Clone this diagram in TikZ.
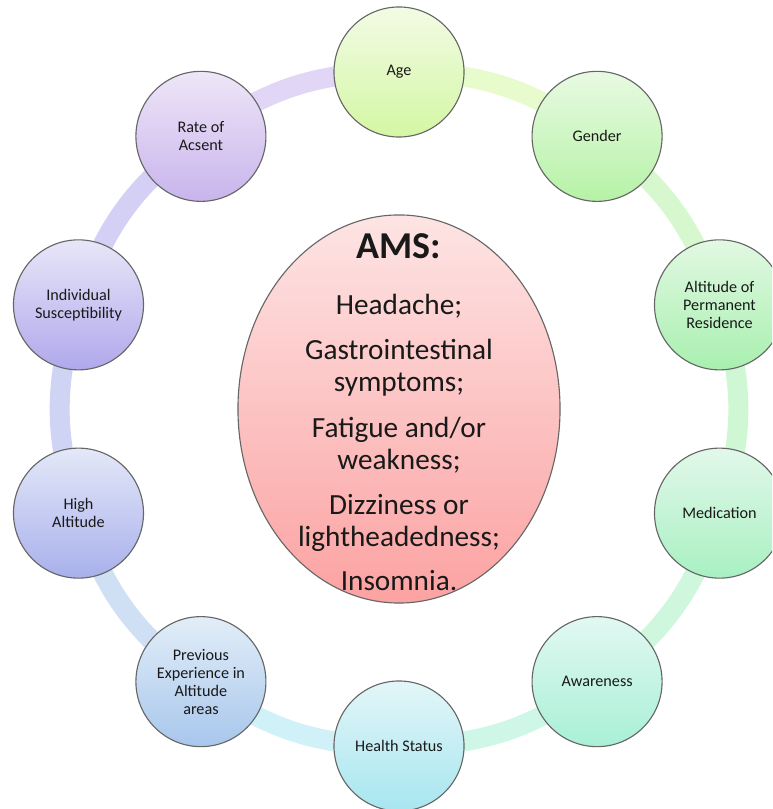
\documentclass[tikz,border=0pt]{standalone}
\usepackage{fontspec}
\setmainfont{Carlito}
\usepackage{xcolor}
\usepackage{tikz}
\usetikzlibrary{shapes.geometric,backgrounds}
\definecolor{ageT}{HTML}{F2FBE4}\definecolor{ageB}{HTML}{D4F7A4}
\definecolor{genT}{HTML}{E8FAE2}\definecolor{genB}{HTML}{B6F2A6}
\definecolor{altT}{HTML}{E2F8E2}\definecolor{altB}{HTML}{A8F0B0}
\definecolor{medT}{HTML}{E2F8EA}\definecolor{medB}{HTML}{A8F0C2}
\definecolor{awaT}{HTML}{E2F8F2}\definecolor{awaB}{HTML}{A8F0D6}
\definecolor{heaT}{HTML}{E2F6F8}\definecolor{heaB}{HTML}{A8E6F0}
\definecolor{preT}{HTML}{E2EEF8}\definecolor{preB}{HTML}{A8C6EC}
\definecolor{higT}{HTML}{E4E8F8}\definecolor{higB}{HTML}{A8B0EC}
\definecolor{indT}{HTML}{E8E6F8}\definecolor{indB}{HTML}{B0A8EC}
\definecolor{ratT}{HTML}{EEE6F8}\definecolor{ratB}{HTML}{C8B4EC}
\definecolor{amsT}{HTML}{FDE4E4}\definecolor{amsB}{HTML}{FCA2A2}
\tikzset{
  factor/.style={circle,draw=black!60,line width=0.8pt,minimum size=3.25cm,inner sep=0pt,
    align=center,text=black!90,font=\fontsize{11.5}{12.8}\selectfont},
  ringbar/.style={line width=0.5cm},
  amsbox/.style={ellipse,draw=black!60,line width=0.8pt,minimum width=8.05cm,minimum height=9.7cm,
    top color=amsT,bottom color=amsB}
}

\begin{document}
\begin{tikzpicture}[x=0.025cm,y=0.025cm]
\useasboundingbox (0,0) rectangle (772,809);
\clip (0,0) rectangle (772,809);
\coordinate (hub) at (399,400);
\foreach \n/\a/\c/\l in {age/90/age/Age,gender/54/gen/Gender,
  residence/18/alt/{Altitude of\\Permanent\\Residence},medication/-18/med/Medication,
  awareness/-54/awa/Awareness,health/-90/hea/Health Status,
  previous/-126/pre/{Previous\\Experience in\\Altitude\\areas},highalt/-162/hig/{High\\Altitude},
  susceptibility/162/ind/{Individual\\Susceptibility},ascent/126/rat/{Rate of\\Acsent}}{
  \node[factor,top color=\c T,bottom color=\c B] (\n) at ([shift={(\a:337)}]hub) {\l};}
\begin{pgfonlayer}{background}
\foreach \p/\q/\c in {age/gender/age,gender/residence/gen,residence/medication/alt,
  medication/awareness/med,awareness/health/awa,health/previous/hea,
  previous/highalt/pre,highalt/susceptibility/hig,susceptibility/ascent/ind,ascent/age/rat}
  \draw[ringbar,draw=\c B!55!white] (\p.center) to[bend left=18] (\q.center);
\end{pgfonlayer}
\node[amsbox] (ams) at (hub) {};
\node[align=center,text=black!90,font=\fontsize{20.8}{22.8}\selectfont] (signs) at ([yshift=-2]ams.center)
  {{\fontsize{27}{30}\selectfont\bfseries AMS:}\\[17pt]
   Headache;\\[9.5pt]
   Gastrointestinal\\symptoms;\\[9.5pt]
   Fatigue and/or\\weakness;\\[9.5pt]
   Dizziness or\\lightheadedness;\\[8pt]
   Insomnia.};
\end{tikzpicture}
\end{document}
